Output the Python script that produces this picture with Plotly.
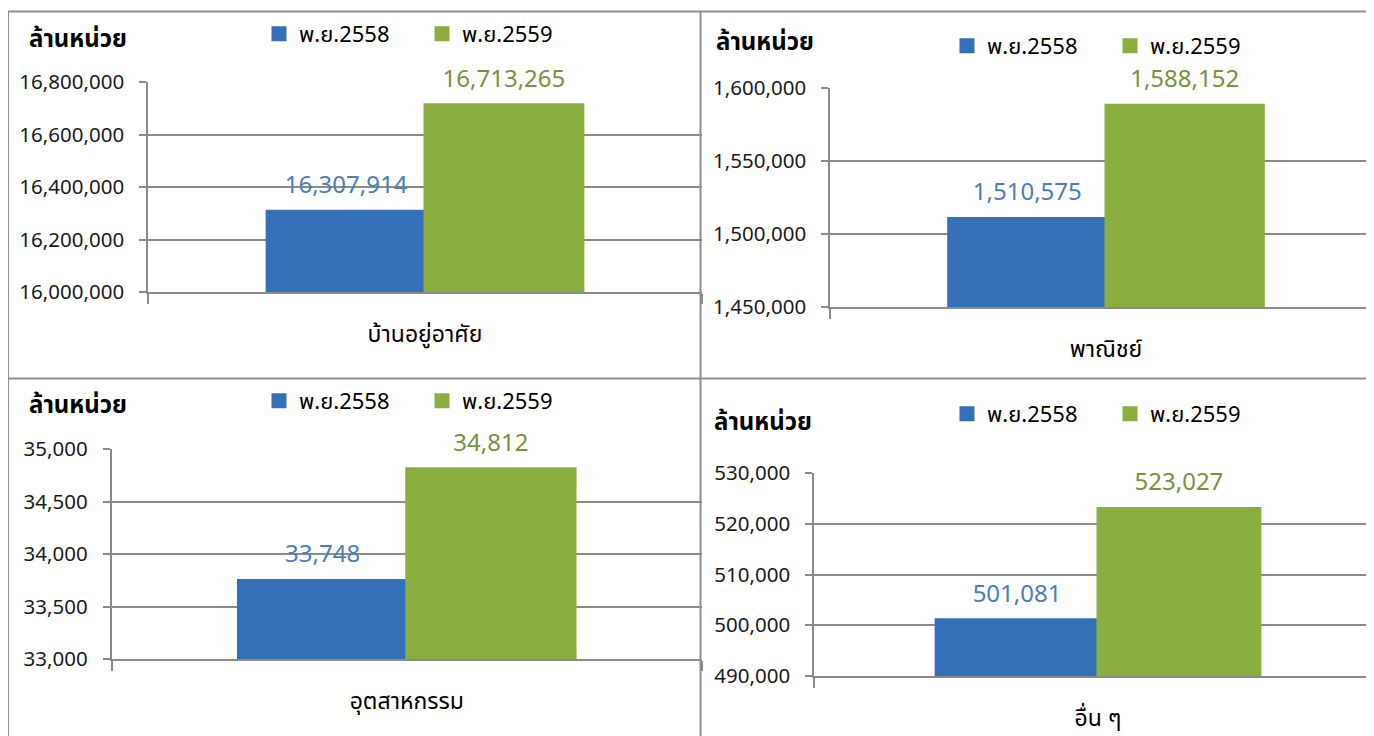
import plotly.graph_objects as go

# ---------------- data ----------------
categories = ["บ้านอยู่อาศัย", "พาณิชย์", "อุตสาหกรรม", "อื่น ๆ"]
series_names = ["พ.ย.2558", "พ.ย.2559"]
values_2558 = [16307914, 1510575, 33748, 501081]
values_2559 = [16713265, 1588152, 34812, 523027]
y_min = [16000000, 1450000, 33000, 490000]
y_max = [16800000, 1600000, 35000, 530000]
y_step = [200000, 50000, 500, 10000]
unit_label = "ล้านหน่วย"

# ---------------- style ----------------
W, H = 1374, 736
OFF = 8  # page body margin
THAI = "Noto Sans Thai, Noto Sans Thai UI, Leelawadee UI, Tahoma, Noto Sans, sans-serif"
NUM = "Noto Sans Thai, Open Sans, Noto Sans, sans-serif"
bar_colors = ["#3570B8", "#8AAF40"]
label_colors = ["#4A7EBB", "#77933C"]
GRID = "#8a8a8a"


def px(x):
    return (x - OFF) / W


def py(y):
    return 1 - (y - OFF) / H


# panel geometry in (page) pixels
panels = [
    dict(x0=148, x1=702, xr=0.5, y0=82, y1=292, legx=259, legy=34, tx=27, ty=40),
    dict(x0=830, x1=1382, xr=0.5, y0=88, y1=307, legx=947, legy=46, tx=714, ty=43),
    dict(x0=111.5, x1=702, xr=0.5, y0=449, y1=659, legx=259, legy=401, tx=27, ty=406),
    dict(x0=814, x1=1382, xr=0.5, y0=473, y1=676, legx=947, legy=414, tx=712, ty=423),
]

fig = go.Figure()
series_values = [values_2558, values_2559]

for i, p in enumerate(panels):
    xa = "x" if i == 0 else f"x{i+1}"
    ya = "y" if i == 0 else f"y{i+1}"
    leg = "legend" if i == 0 else f"legend{i+1}"
    for s in range(2):
        fig.add_trace(go.Bar(
            x=[categories[i]], y=[series_values[s][i]], name=series_names[s],
            marker=dict(color=bar_colors[s], line=dict(width=3, color=bar_colors[s])),
            xaxis=xa, yaxis=ya, legend=leg, hoverinfo="skip",
        ))
    for s in range(2):
        fig.add_trace(go.Scatter(
            x=[categories[i]], y=[series_values[s][i]], mode="markers+text",
            text=[f"{series_values[s][i]:,}"], textposition="top center",
            textfont=dict(size=24, color=label_colors[s], family=NUM),
            marker=dict(size=18, opacity=0), cliponaxis=False,
            xaxis=xa, yaxis=ya, showlegend=False, hoverinfo="skip",
        ))

layout = dict(
    template="none",
    width=W, height=H, margin=dict(l=0, r=0, t=0, b=0, autoexpand=False),
    paper_bgcolor="white", plot_bgcolor="white",
    barmode="group", bargap=0.43, scattermode="group", scattergap=0.43,
    annotations=[], shapes=[],
)

for i, p in enumerate(panels):
    xk = "xaxis" if i == 0 else f"xaxis{i+1}"
    yk = "yaxis" if i == 0 else f"yaxis{i+1}"
    lk = "legend" if i == 0 else f"legend{i+1}"
    ya = "y" if i == 0 else f"y{i+1}"
    xa = "x" if i == 0 else f"x{i+1}"
    d0, d1 = px(p["x0"]), px(p["x1"])
    xr = p["xr"]
    if d1 > 1:  # plot continues past the right edge of the window
        frac = (1 - d0) / (d1 - d0)
        xr = -0.5 + frac
        d1 = 1
    layout[xk] = dict(
        domain=[d0, d1], anchor=ya, type="category", automargin=False,
        range=[-0.5, xr], showline=True, linecolor=GRID, linewidth=1.5,
        ticks="outside", tickson="boundaries", ticklen=10, tickcolor=GRID, tickwidth=1.5,
        tickfont=dict(size=23, family=THAI, color="#000"), ticklabelstandoff=21,
        showgrid=False, fixedrange=True,
    )
    layout[yk] = dict(
        domain=[py(p["y1"]), py(p["y0"])], anchor=xa, automargin=False,
        range=[y_min[i], y_max[i]], tick0=y_min[i], dtick=y_step[i], tickformat=",",
        showgrid=True, gridcolor=GRID, gridwidth=1.5,
        showline=True, linecolor=GRID, linewidth=1.5,
        ticks="outside", ticklen=7, tickcolor=GRID, tickwidth=1.5,
        tickfont=dict(size=20.5, family=NUM, color="#1a1a1a"), ticklabelstandoff=11,
        zeroline=False, fixedrange=True,
    )
    layout[lk] = dict(
        x=px(p["legx"]), y=py(p["legy"]), xanchor="left", yanchor="middle",
        orientation="h", font=dict(size=22, family=THAI, color="#000"),
        bgcolor="rgba(0,0,0,0)", borderwidth=0,
        entrywidth=118, entrywidthmode="pixels",
    )
    layout["annotations"].append(dict(
        text="<b>" + unit_label + "</b>", xref="paper", yref="paper",
        x=px(p["tx"]), y=py(p["ty"]), xanchor="left", yanchor="middle",
        showarrow=False, font=dict(size=24, family=THAI, color="#000"),
    ))

# panel borders
bc = dict(color="#8f8f8f", width=2)
for (x0, y0, x1, y1) in [(8, 11.5, 1382, 11.5), (8, 378.5, 1382, 378.5),
                         (8, 11.5, 8, 744), (700.5, 11.5, 700.5, 744)]:
    layout["shapes"].append(dict(type="line", xref="paper", yref="paper",
                                 x0=px(x0), y0=py(y0), x1=px(x1), y1=py(y1), line=bc))

fig.update_layout(**layout)
fig.write_html("out.html")
